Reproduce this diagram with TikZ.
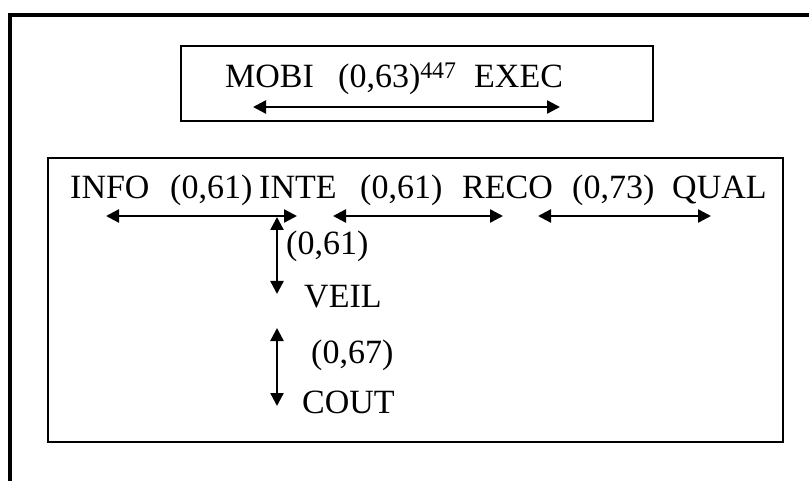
\documentclass[tikz,border=0pt]{standalone}
\usepackage{fontspec}
\setmainfont{Liberation Serif}
\usetikzlibrary{arrows.meta}
\begin{document}
\begin{tikzpicture}[x=1pt,y=-1pt,
  lbl/.style={anchor=base west,inner sep=0pt,font=\fontsize{34}{40}\selectfont},
  conn/.style={line width=2.4pt,{Triangle[length=13pt,width=13pt]}-{Triangle[length=13pt,width=13pt]}},
  boxline/.style={line width=2pt}]
\useasboundingbox (0,0) rectangle (809,481);
% outer frame (top and left edges)
\draw[line width=4pt] (10,483) -- (10,15) -- (811,15);
% top box
\draw[boxline] (181,46) rectangle (653,121);
\node[lbl] (mobi) at (225,88) {MOBI};
\node[lbl] (c063) at (338,88) {(0,63)\textsuperscript{447}};
\node[lbl] (exec) at (474,88) {EXEC};
\coordinate (m1) at (253,107);
\coordinate (m2) at (560,107);
\draw[conn] (m1) -- (m2);
% lower box
\draw[boxline] (48,158) rectangle (783,442);
\node[lbl] (info) at (70,199) {INFO};
\node[lbl] (ca) at (170,199) {(0,61)};
\node[lbl] (inte) at (259,199) {INTE};
\node[lbl] (cb) at (360,199) {(0,61)};
\node[lbl] (reco) at (462,199) {RECO};
\node[lbl] (cc) at (572,199) {(0,73)};
\node[lbl] (qual) at (672,199) {QUAL};
\node[lbl] (cd) at (286,255) {(0,61)};
\node[lbl] (veil) at (304,307) {VEIL};
\node[lbl] (ce) at (311,363) {(0,67)};
\node[lbl] (cout) at (302,413) {COUT};
\coordinate (h1a) at (106,216);
\coordinate (h1b) at (297,216);
\coordinate (h2a) at (333,216);
\coordinate (h2b) at (503,216);
\coordinate (h3a) at (538,216);
\coordinate (h3b) at (711,216);
\coordinate (v1a) at (277,217);
\coordinate (v1b) at (277,294);
\coordinate (v2a) at (277,328);
\coordinate (v2b) at (277,406);
\draw[conn] (h1a) -- (h1b);
\draw[conn] (h2a) -- (h2b);
\draw[conn] (h3a) -- (h3b);
\draw[conn] (v1a) -- (v1b);
\draw[conn] (v2a) -- (v2b);
\end{tikzpicture}
\end{document}
